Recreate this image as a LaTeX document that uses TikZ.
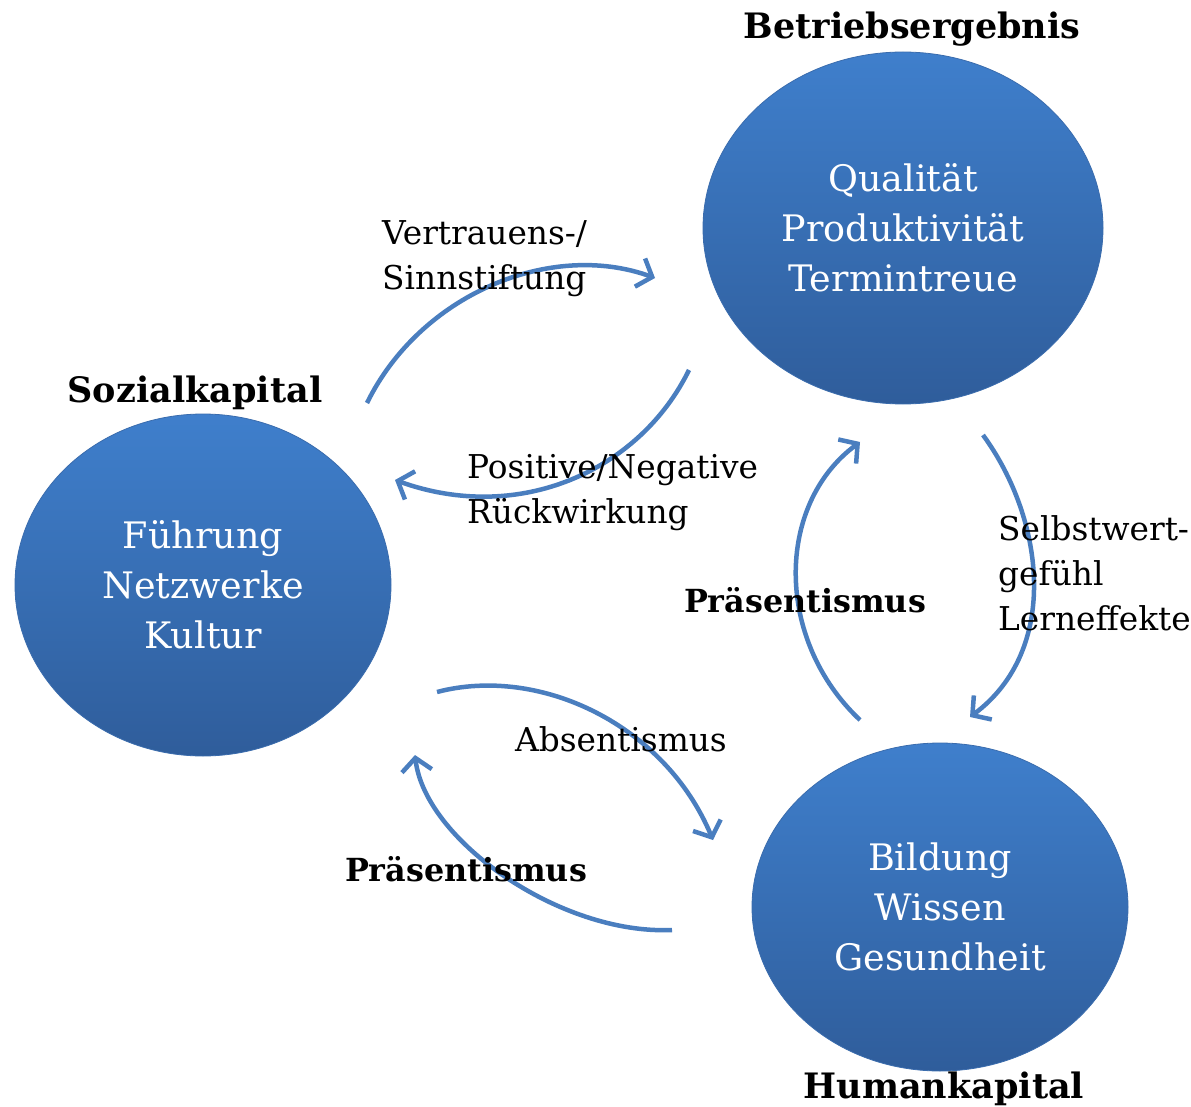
\documentclass[tikz,border=0pt]{standalone}
\usepackage{fontspec}
\setmainfont{DejaVu Serif}
\usetikzlibrary{shapes.geometric,arrows.meta}
\definecolor{arrowblue}{HTML}{4A7EBF}
\definecolor{topblue}{HTML}{3F7FCC}
\definecolor{botblue}{HTML}{2F5D9B}
\definecolor{edgeblue}{HTML}{3A6CAD}
\begin{document}
\begin{tikzpicture}[x=1pt,y=-1pt,
  bubble/.style={ellipse, draw=edgeblue, line width=0.8pt, top color=topblue, bottom color=botblue,
    text=white, align=center, inner sep=0pt, font=\fontsize{36.5}{50}\selectfont},
  flow/.style={draw=arrowblue, line width=4.5pt, -{Straight Barb[length=13pt,width=30pt]}},
  lbl/.style={align=left, anchor=west, inner sep=0pt, font=\fontsize{32.8}{45}\selectfont},
  heading/.style={inner sep=0pt, font=\bfseries\fontsize{35}{40}\selectfont},
  effect/.style={inner sep=0pt, font=\bfseries\fontsize{31.8}{40}\selectfont}]
\useasboundingbox (0,0) rectangle (1191,1107);
\fill[white] (0,0) rectangle (1191,1107);

% circles
\node[bubble, minimum width=400pt, minimum height=352pt] (betrieb) at (903,228) {Qualität\\Produktivität\\Termintreue};
\node[bubble, minimum width=376pt, minimum height=342pt] (sozial) at (203,585) {Führung\\Netzwerke\\Kultur};
\node[bubble, minimum width=376pt, minimum height=328pt] (human) at (940,907) {Bildung\\Wissen\\Gesundheit};

% connector end points
\coordinate (a1s) at (367,403); \coordinate (a1e) at (655,278);
\coordinate (a2s) at (689,370); \coordinate (a2e) at (395,480);
\coordinate (a3s) at (983,435); \coordinate (a3e) at (970,717);
\coordinate (a4s) at (860,720); \coordinate (a4e) at (860,442);
\coordinate (a5s) at (437,692); \coordinate (a5e) at (713,840);
\coordinate (a6s) at (672,930); \coordinate (a6e) at (415,755);

\draw[flow] (a1s) .. controls (420,295) and (550,240) .. (a1e);
\draw[flow] (a2s) .. controls (640,470) and (520,525) .. (a2e);
\draw[flow] (a3s) .. controls (1045,520) and (1060,650) .. (a3e);
\draw[flow] (a4s) .. controls (775,640) and (775,505) .. (a4e);
\draw[flow] (a5s) .. controls (540,665) and (665,725) .. (a5e);
\draw[flow] (a6s) .. controls (560,935) and (425,840) .. (a6e);

% headings
\node[heading] (hbetrieb) at (912,29) {Betriebsergebnis};
\node[heading] (hsozial) at (195,393) {Sozialkapital};
\node[heading] (hhuman) at (944,1089) {Humankapital};
\node[effect] (praes1) at (805,600) {Präsentismus};
\node[effect] (praes2) at (466,869) {Präsentismus};

% labels
\node[lbl] (vertrauen) at (382,259) {Vertrauens-/\\Sinnstiftung};
\node[lbl] (rueck) at (467,493) {Positive/Negative\\Rückwirkung};
\node[lbl] (selbst) at (998,573) {Selbstwert-\\gefühl\\Lerneffekte};
\node[lbl] (absent) at (515,739) {Absentismus};
\end{tikzpicture}
\end{document}
